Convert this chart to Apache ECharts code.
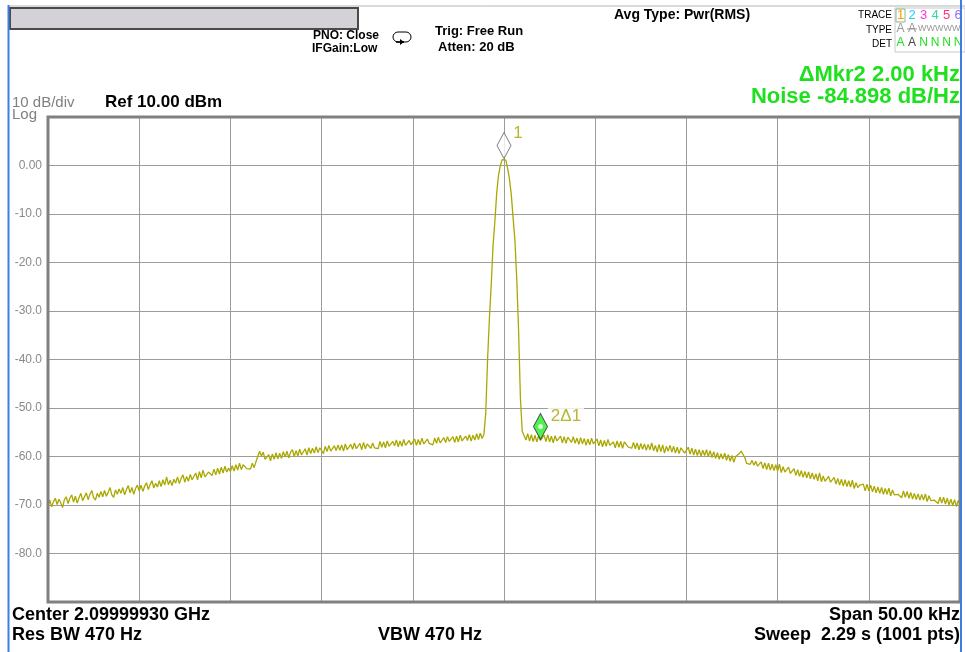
<!DOCTYPE html>
<html>
<head>
<meta charset="utf-8">
<script src="https://cdn.jsdelivr.net/npm/echarts@6/dist/echarts.min.js"></script>
<style>
  html, body { margin: 0; padding: 0; background: #fff; }
  #chart { width: 965px; height: 652px; }
</style>
</head>
<body>
<div id="chart"></div>
<script>
// sweep: -25 kHz .. +25 kHz around center, read every 0.1 kHz
const sweepStartKHz = -25;
const sweepStepKHz = 0.1;
const traceDbm = [
  -70.2, -69.0, -70.4, -69.3, -68.6, -69.9, -68.8, -69.6, -70.5, -68.9, // -25
  -68.3, -69.7, -68.6, -67.9, -69.4, -68.2, -69.6, -68.5, -67.6, -69.1, // -24
  -68.7, -67.5, -68.9, -67.8, -67.0, -68.5, -69.0, -67.6, -68.4, -67.2, // -23
  -68.3, -67.0, -68.2, -67.4, -66.4, -67.9, -68.4, -66.9, -67.8, -66.7, // -22
  -67.6, -66.4, -67.9, -66.8, -66.0, -67.5, -66.4, -67.8, -66.6, -65.9, // -21
  -67.1, -65.9, -67.2, -66.1, -65.4, -66.8, -65.8, -65.0, -66.5, -65.5, // -20
  -66.3, -65.0, -66.2, -64.8, -65.9, -64.2, -65.8, -64.9, -66.0, -64.7, // -19
  -65.5, -64.2, -65.6, -64.5, -63.8, -65.3, -64.1, -65.1, -63.7, -64.8, // -18
  -64.6, -63.4, -64.8, -63.1, -64.4, -62.8, -64.2, -64.5, -63.2, -62.9, // -17
  -63.9, -62.6, -63.8, -62.4, -63.6, -62.2, -63.4, -62.0, -63.2, -62.4, // -16
  -63.1, -61.9, -63.0, -61.7, -62.8, -61.4, -62.7, -61.7, -61.3, -62.5, // -15
  -62.2, -62.6, -61.4, -62.3, -61.1, -60.0, -58.9, -59.9, -59.1, -60.6, // -14
  -60.8, -59.6, -60.9, -59.5, -60.6, -59.2, -60.5, -59.3, -60.4, -59.0, // -13
  -60.1, -58.9, -60.3, -59.1, -58.6, -60.0, -58.8, -59.9, -58.5, -59.7, // -12
  -59.6, -58.4, -59.7, -58.2, -59.4, -58.3, -59.3, -58.0, -59.2, -58.2, // -11
  -58.8, -59.4, -57.9, -59.0, -57.7, -58.9, -59.2, -57.8, -58.8, -57.6, // -10
  -58.7, -57.6, -58.9, -57.4, -58.6, -59.0, -57.5, -58.5, -57.2, -58.4, // -9
  -58.4, -57.3, -58.6, -57.1, -58.4, -57.4, -57.0, -58.3, -57.2, -58.2, // -8
  -58.0, -58.4, -56.9, -58.1, -57.0, -58.2, -56.8, -57.9, -58.3, -56.9, // -7
  -57.8, -56.6, -58.0, -56.8, -57.9, -56.5, -57.7, -58.1, -56.7, -57.6, // -6
  -57.5, -56.4, -57.7, -56.5, -57.6, -56.2, -57.4, -57.8, -56.4, -57.3, // -5
  -57.2, -57.6, -56.2, -57.3, -56.0, -57.2, -57.5, -56.1, -57.1, -55.9, // -4
  -56.9, -57.3, -55.9, -57.1, -55.8, -57.0, -55.6, -56.8, -57.2, -55.8, // -3
  -56.7, -55.5, -56.8, -55.6, -56.6, -55.3, -56.5, -55.2, -56.3, -55.4, // -2
  -51.0, -40.0, -31.5, -24.5, -16.5, -11.5, -5.7, -2.0, 0.0, 1.2,       // -1
  1.6, 1.1, -0.6, -2.8, -6.0, -10.8, -15.5, -23.5, -34.0, -48.0,        // 0
  -54.8, -55.2, -56.6, -55.3, -56.8, -55.5, -56.9, -55.6, -57.0, -55.7, // 1
  -56.7, -57.1, -55.6, -56.9, -55.5, -57.0, -55.8, -57.2, -55.7, -56.8, // 2
  -57.1, -55.8, -57.2, -55.9, -57.3, -56.0, -55.6, -57.1, -55.9, -57.3, // 3
  -56.2, -57.5, -56.1, -57.4, -56.3, -57.7, -56.4, -57.6, -56.2, -57.4, // 4
  -57.7, -56.4, -57.8, -56.6, -58.0, -56.7, -57.9, -56.5, -57.7, -58.0, // 5
  -57.0, -58.2, -56.8, -58.1, -56.9, -58.3, -57.0, -56.6, -58.0, -58.2, // 6
  -58.3, -57.1, -58.4, -57.2, -58.6, -57.3, -58.5, -57.4, -58.7, -57.5, // 7
  -58.6, -57.2, -58.8, -57.7, -59.1, -57.5, -59.0, -57.6, -59.3, -57.9, // 8
  -58.9, -57.7, -59.1, -57.9, -59.3, -58.1, -59.4, -58.2, -58.0, -59.3, // 9
  -59.3, -58.1, -59.5, -58.3, -59.7, -58.5, -59.8, -58.6, -59.9, -58.7, // 10
  -59.8, -58.6, -60.0, -58.8, -60.2, -59.0, -60.4, -59.2, -60.6, -59.4, // 11
  -60.5, -59.3, -60.8, -59.6, -61.0, -59.8, -61.2, -60.0, -59.9, -59.4, // 12
  -58.9, -59.1, -60.2, -61.4, -61.0, -61.6, -60.8, -61.8, -61.0, -62.0, // 13
  -62.3, -61.1, -62.5, -61.3, -62.7, -61.4, -62.8, -61.6, -62.9, -61.7, // 14
  -63.0, -61.6, -63.3, -62.1, -63.2, -62.9, -62.2, -63.5, -63.9, -62.5, // 15
  -63.9, -62.7, -64.1, -62.9, -64.3, -63.1, -64.4, -63.2, -64.6, -63.4, // 16
  -64.7, -63.6, -65.0, -63.4, -65.2, -64.0, -65.1, -64.7, -64.1, -65.3, // 17
  -65.5, -64.3, -65.7, -64.5, -65.9, -64.7, -66.1, -64.8, -66.2, -65.0, // 18
  -66.3, -64.9, -66.6, -65.4, -66.4, -65.9, -66.2, -65.7, -67.1, -65.7, // 19
  -67.1, -65.9, -67.3, -66.1, -67.5, -66.3, -67.6, -66.4, -67.8, -66.6, // 20
  -67.8, -66.5, -68.1, -66.9, -67.9, -67.6, -67.8, -67.4, -68.5, -67.1, // 21
  -68.4, -67.2, -68.6, -67.4, -68.8, -67.6, -68.9, -67.7, -69.0, -67.8, // 22
  -69.0, -67.7, -69.3, -68.1, -69.1, -68.8, -69.0, -68.6, -69.7, -68.4, // 23
  -69.6, -68.4, -69.8, -68.6, -70.0, -68.8, -70.1, -68.9, -70.3, -69.1, // 24
  -69.8                                                                  // 25
];

const markerNames = ['1', '2\u03941'];
const markerKHz = [0, 2];
const markerDbm = [1.45, -56.5];

const yMin = -90, yMax = 10, yStep = 10;
const xMin = -25, xMax = 25, xStep = 5;

// plot frame in px
const plotLeft = 48, plotTop = 117, plotRight = 960, plotBottom = 602;

const FONT = "'Liberation Sans', Arial, sans-serif";
const green = '#1fe01f';
const olive = '#a8a400';

const traceData = traceDbm.map((v, i) => [+(sweepStartKHz + i * sweepStepKHz).toFixed(2), v]);

function txt(x, y, text, size, opts) {
  opts = opts || {};
  return {
    type: 'text', x: x, y: y, z: 50, silent: true,
    style: {
      text: text,
      font: (opts.bold ? 'bold ' : '') + size + 'px ' + FONT,
      fill: opts.color || '#000',
      align: opts.align || 'left',
      verticalAlign: 'middle'
    }
  };
}

const traceDigits = ['1', '2', '3', '4', '5', '6'];
const traceDigitColors = ['#ff9900', '#22ccff', '#ff33dd', '#33dd99', '#ff3377', '#9966ff'];
const detRow = ['A', 'A', 'N', 'N', 'N', 'N'];
const detColors = [green, '#444', green, green, green, green];

const graphics = [
  // outer window edges
  { type: 'line', z: 60, shape: { x1: 8, y1: 6, x2: 965, y2: 6 }, style: { stroke: '#b4b4b4', lineWidth: 1 } },
  { type: 'line', z: 60, shape: { x1: 8.5, y1: 5, x2: 8.5, y2: 652 }, style: { stroke: '#3c7ee6', lineWidth: 2 } },
  { type: 'line', z: 60, shape: { x1: 961, y1: 0, x2: 961, y2: 652 }, style: { stroke: '#3c7ee6', lineWidth: 2 } },
  // title bar
  { type: 'rect', z: 40, shape: { x: 10, y: 8, width: 348, height: 21 }, style: { fill: '#d4d2d6', stroke: '#4a4a4a', lineWidth: 2 } },
  // plot frame
  { type: 'rect', z: 45, silent: true, shape: { x: plotLeft, y: plotTop, width: plotRight - plotLeft, height: plotBottom - plotTop }, style: { fill: 'none', stroke: '#808080', lineWidth: 3 } },
  // trigger icon
  { type: 'rect', z: 40, shape: { x: 393, y: 32, width: 18, height: 10, r: 5 }, style: { fill: '#fff', stroke: '#000', lineWidth: 1 } },
  { type: 'polyline', z: 41, shape: { points: [[396, 42], [404, 42]] }, style: { stroke: '#000', lineWidth: 1.5 } },
  { type: 'polygon', z: 41, shape: { points: [[400, 39], [404, 42], [400, 45]] }, style: { fill: '#000' } },

  txt(313, 36, 'PNO: Close', 12, { bold: true }),
  txt(312, 49, 'IFGain:Low', 12, { bold: true }),
  txt(435, 31, 'Trig: Free Run', 13, { bold: true }),
  txt(438, 47, 'Atten: 20 dB', 13, { bold: true }),
  txt(614, 15, 'Avg Type: Pwr(RMS)', 14, { bold: true }),

  txt(892, 15, 'TRACE', 10, { align: 'right' }),
  txt(892, 30, 'TYPE', 10, { align: 'right' }),
  txt(892, 44, 'DET', 10, { align: 'right' }),
  { type: 'rect', z: 40, shape: { x: 895, y: 8, width: 70, height: 44 }, style: { fill: 'none', stroke: '#c8c8c8', lineWidth: 1 } },
  { type: 'rect', z: 41, shape: { x: 896, y: 9, width: 9, height: 13 }, style: { fill: 'none', stroke: '#88bb88', lineWidth: 1 } },
  txt(900.5, 29, 'A', 12, { color: '#999', align: 'center' }),
  txt(912, 29, 'A', 12, { color: '#999', align: 'center' }),
  { type: 'line', z: 52, shape: { x1: 907, y1: 29, x2: 917, y2: 29 }, style: { stroke: '#999', lineWidth: 1 } },
  txt(918, 29, 'WWWWW', 9, { color: '#999' }),

  txt(plotLeft - 36, 103, '10 dB/div', 15, { color: '#808080' }),
  txt(plotLeft - 36, 115, 'Log', 15, { color: '#808080' }),
  txt(105, 102, 'Ref 10.00 dBm', 17, { bold: true }),

  txt(960, 75, '\u0394Mkr2 2.00 kHz', 22, { bold: true, color: green, align: 'right' }),
  txt(960, 97, 'Noise -84.898 dB/Hz', 22, { bold: true, color: green, align: 'right' }),

  txt(12, 615, 'Center 2.09999930 GHz', 18, { bold: true }),
  txt(12, 635, 'Res BW 470 Hz', 18, { bold: true }),
  txt(378, 635, 'VBW 470 Hz', 18, { bold: true }),
  txt(960, 615, 'Span 50.00 kHz', 18, { bold: true, align: 'right' }),
  txt(960, 635, 'Sweep  2.29 s (1001 pts)', 18, { bold: true, align: 'right' })
];

traceDigits.forEach((d, i) => {
  graphics.push(txt(900.5 + i * 11.5, 15.5, d, 13, { color: traceDigitColors[i], align: 'center' }));
  graphics.push(txt(900.5 + i * 11.5, 43, detRow[i], 12, { color: detColors[i], align: 'center' }));
});

const chart = echarts.init(document.getElementById('chart'));

const option = {
  backgroundColor: '#fff',
  animation: false,
  grid: {
    left: plotLeft,
    top: plotTop,
    right: 965 - plotRight,
    bottom: 652 - plotBottom
  },
  xAxis: {
    type: 'value',
    min: xMin,
    max: xMax,
    interval: xStep,
    axisLine: { show: false },
    axisTick: { show: false },
    axisLabel: { show: false },
    splitLine: { lineStyle: { color: '#9c9c9c', width: 1 } }
  },
  yAxis: {
    type: 'value',
    min: yMin,
    max: yMax,
    interval: yStep,
    axisLine: { show: false },
    axisTick: { show: false },
    axisLabel: {
      color: '#8a8a8a',
      fontSize: 12,
      fontFamily: FONT,
      margin: 6,
      formatter: function (v) {
        if (v === yMax || v === yMin) return '';
        return v === 0 ? '0.00' : v.toFixed(1);
      }
    },
    splitLine: { lineStyle: { color: '#9c9c9c', width: 1 } }
  },
  graphic: graphics,
  series: [
    {
      name: 'Trace 1',
      type: 'line',
      data: traceData,
      showSymbol: false,
      silent: true,
      lineStyle: { color: '#aaa800', width: 1.3 },
      z: 3
    },
    {
      name: 'Markers',
      type: 'scatter',
      symbol: 'diamond',
      symbolSize: [14, 26],
      symbolOffset: [0, -13],
      silent: true,
      z: 5,
      data: markerKHz.map((k, i) => ({
        value: [k, markerDbm[i]],
        name: markerNames[i],
        itemStyle: i === 0
          ? { color: '#ffffff', borderColor: '#666', borderWidth: 1 }
          : { color: '#22ee22', borderColor: '#2a2a2a', borderWidth: 1 },
        label: {
          show: true,
          formatter: markerNames[i],
          position: 'right',
          distance: i === 0 ? 2 : 0,
          offset: i === 0 ? [0, -12] : [0, -10],
          color: olive,
          fontSize: 17,
          fontFamily: FONT,
          backgroundColor: i === 0 ? 'transparent' : '#fff',
          padding: i === 0 ? 0 : [1, 3]
        }
      }))
    },
    {
      name: 'Marker dot',
      type: 'scatter',
      symbol: 'circle',
      symbolSize: 5,
      symbolOffset: [0, -13],
      silent: true,
      z: 6,
      itemStyle: { color: '#fff' },
      data: [[markerKHz[1], markerDbm[1]]]
    }
  ]
};

chart.setOption(option);
</script>
</body>
</html>
